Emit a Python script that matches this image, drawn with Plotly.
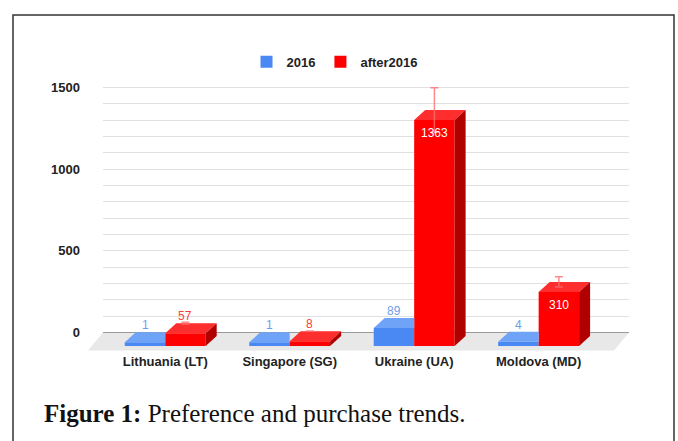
import plotly.graph_objects as go

# ---------------- data ----------------
categories = ["Lithuania (LT)", "Singapore (SG)", "Ukraine (UA)", "Moldova (MD)"]
series_names = ["2016", "after2016"]
values_2016 = [1, 1, 89, 4]
values_after = [57, 8, 1363, 310]
error_fraction = 0.10
y_tick_values = [0, 500, 1000, 1500]
y_minor_values = [100, 200, 300, 400, 600, 700, 800, 900, 1100, 1200, 1300, 1400]
caption_bold = "Figure 1:"
caption_text = "Preference and purchase trends."

# ---------------- layout / style ----------------
W, H = 678, 441
L, R, T, B = 103, 49, 80, 89
plot_w = W - L - R
plot_h = H - T - B
x_range = [-0.5, 3.726]
y_range = [-119.5, 1547]
ux = plot_w / (x_range[1] - x_range[0])   # px per category unit
uy = plot_h / (y_range[1] - y_range[0])   # px per value unit

bargap = 0.35
bar_w = (1 - bargap) / 2
depth_dx = 11 / ux          # 3D depth, horizontal (category units)
depth_dy = 10 / uy          # 3D depth, vertical (value units)
front_base = -13.5 / uy     # front face baseline (value units)
floor_dx_px, floor_dy_px = 15, 18

BLUE, BLUE_TOP = "#4a89f3", "#6ea3f7"
RED, RED_TOP, RED_SIDE = "#ff0000", "#ff2e2e", "#b00000"
BLUE_LABEL, RED_LABEL = "#6d9eeb", "#ff3b3b"
SANS = "Liberation Sans, Arial, sans-serif"

xs_idx = list(range(len(categories)))

fig = go.Figure()

# front faces (bars)
for name, vals, col in [(series_names[0], values_2016, BLUE), (series_names[1], values_after, RED)]:
    fig.add_trace(go.Bar(
        name=name, x=xs_idx, y=[v - depth_dy - front_base for v in vals], base=front_base,
        marker=dict(color=col, line=dict(width=0)), hoverinfo="skip",
    ))


def poly_trace(points_list, color):
    xs, ys = [], []
    for pts in points_list:
        for (px, py) in pts:
            xs.append(px)
            ys.append(py)
        xs.append(pts[0][0]); ys.append(pts[0][1])
        xs.append(None); ys.append(None)
    return go.Scatter(x=xs, y=ys, mode="lines", line=dict(width=0), fill="toself",
                      fillcolor=color, hoverinfo="skip", showlegend=False)


blue_tops, red_tops, red_sides = [], [], []
for i in xs_idx:
    v = values_2016[i]
    xl = i - bar_w
    xr = i
    blue_tops.append([(xl, v - depth_dy), (xr, v - depth_dy), (xr, v), (xl + depth_dx, v)])
    v = values_after[i]
    xl = i
    xr = i + bar_w
    red_tops.append([(xl, v - depth_dy), (xr, v - depth_dy), (xr + depth_dx, v), (xl + depth_dx, v)])
    red_sides.append([(xr, front_base), (xr, v - depth_dy), (xr + depth_dx, v),
                      (xr + depth_dx, front_base + depth_dy)])

fig.add_trace(poly_trace(blue_tops, BLUE_TOP))
fig.add_trace(poly_trace(red_tops, RED_TOP))
fig.add_trace(poly_trace(red_sides, RED_SIDE))

# error bars on after2016
fig.add_trace(go.Scatter(
    x=[i + bar_w / 2 for i in xs_idx], y=values_after, mode="markers",
    marker=dict(size=1, color="rgba(0,0,0,0)"),
    error_y=dict(type="data", array=[v * error_fraction for v in values_after], symmetric=True,
                 color="rgba(255,110,110,0.8)", thickness=1.5, width=4),
    hoverinfo="skip", showlegend=False,
))

annotations = []
for i in xs_idx:
    v = values_2016[i]
    annotations.append(dict(x=i - bar_w / 2, y=v, xref="x", yref="y", text=str(v), showarrow=False,
                            yanchor="middle", yshift=7, font=dict(family=SANS, size=12, color=BLUE_LABEL)))
    v = values_after[i]
    inside = v > 200
    annotations.append(dict(x=i + bar_w / 2, y=(v - depth_dy) if inside else v, xref="x", yref="y",
                            text=str(v), showarrow=False, yanchor="middle",
                            yshift=-13 if inside else 7,
                            font=dict(family=SANS, size=12, color="white" if inside else RED_LABEL)))


def px_x(px):
    return (px - L) / plot_w


def px_y(py):
    return (H - B - py) / plot_h


def val_y(v):
    return (v - y_range[0]) / (y_range[1] - y_range[0])


annotations.append(dict(x=px_x(42), y=px_y(413), xref="paper", yref="paper", xanchor="left",
                        yanchor="middle", showarrow=False,
                        text=f"<b>{caption_bold}</b> {caption_text}",
                        font=dict(family="Liberation Serif, Times New Roman, serif", size=25, color="#111")))

shapes = [
    # floor
    dict(type="path", xref="paper", yref="paper", layer="below", line=dict(width=0), fillcolor="#e8e8e8",
         path=(f"M {px_x(L)},{val_y(0)} L {px_x(L + plot_w)},{val_y(0)} "
               f"L {px_x(L + plot_w - floor_dx_px)},{val_y(0) - floor_dy_px / plot_h} "
               f"L {px_x(L - floor_dx_px)},{val_y(0) - floor_dy_px / plot_h} Z")),
    # frame
    dict(type="rect", xref="paper", yref="paper", x0=px_x(13), x1=px_x(674), y0=px_y(470), y1=px_y(15),
         line=dict(color="#333333", width=1.5), fillcolor="rgba(0,0,0,0)", layer="above"),
]

fig.update_layout(
    width=W, height=H, margin=dict(l=L, r=R, t=T, b=B),
    paper_bgcolor="white", plot_bgcolor="white",
    barmode="group", bargap=bargap, bargroupgap=0,
    showlegend=True,
    legend=dict(orientation="h", x=px_x(335), xanchor="center", y=px_y(61.7), yanchor="middle",
                font=dict(family=SANS, size=13, color="#222", weight="bold"), itemwidth=30,
                bgcolor="rgba(0,0,0,0)"),
    xaxis=dict(range=x_range, tickmode="array", tickvals=xs_idx, ticktext=categories,
               showgrid=False, zeroline=False, showline=False, ticks="",
               tickfont=dict(family=SANS, size=13, color="#222", weight="bold")),
    yaxis=dict(range=y_range, tickmode="array", tickvals=y_tick_values,
               showgrid=True, gridcolor="#e0e0e0", gridwidth=1,
               minor=dict(tickmode="array", tickvals=y_minor_values, showgrid=True,
                          gridcolor="#e0e0e0", gridwidth=1, ticks=""),
               zeroline=True, zerolinecolor="#9a9a9a", zerolinewidth=1,
               showline=False, ticks="", ticklabelstandoff=22,
               tickfont=dict(family=SANS, size=13, color="#222", weight="bold")),
    annotations=annotations, shapes=shapes,
)

fig.write_html("out.html")
